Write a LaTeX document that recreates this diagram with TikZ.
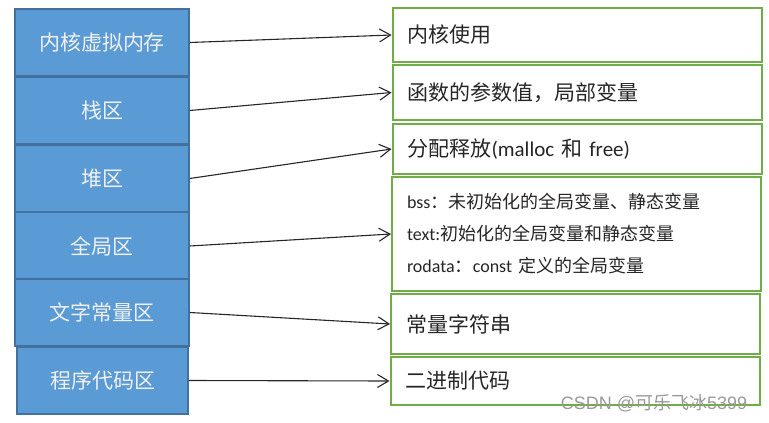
\documentclass[tikz,border=0pt]{standalone}
\usepackage{fontspec}
\setmainfont{Noto Sans CJK SC}
\newfontfamily\latin{Carlito}
\newfontfamily\markfont{Liberation Sans}
\usetikzlibrary{arrows.meta}

\definecolor{segblue}{HTML}{5B9BD5}
\definecolor{segline}{HTML}{41719C}
\definecolor{descgreen}{HTML}{70AD47}

\tikzset{
  seg/.style={draw=segline, line width=1.5pt, fill=segblue, text=white!94!black,
    font=\fontsize{21}{25}\selectfont, minimum width=174pt, minimum height=67pt, inner sep=0pt},
  desc/.style={draw=descgreen, line width=2pt, text=black!85,
    font=\fontsize{21}{25}\selectfont, minimum width=369pt, text width=339pt,
    inner xsep=15pt, inner ysep=0pt, align=left},
  link/.style={-{Straight Barb[length=11pt,width=13pt]}, line width=1.1pt, black!85}
}

\begin{document}
\begin{tikzpicture}[x=1pt,y=-1pt]
        \useasboundingbox (0,0) rectangle (769,423);

        % memory segments
        \node[seg] (kernel) at (102,42.5) {内核虚拟内存};
        \node[seg] (stack) at (102,110.5) {栈区};
        \node[seg] (heap) at (102,178.5) {堆区};
        \node[seg] (global) at (102,246) {全局区};
        \node[seg] (literal) at (102,312.5) {文字常量区};
        \node[seg, minimum width=171pt] (code) at (102.5,380.5) {程序代码区};

        % descriptions
        \node[desc, minimum height=54pt] (kernelUse) at (577,35) {内核使用};
        \node[desc, minimum height=55pt] (stackUse) at (577,92.5) {函数的参数值，局部变量};
        \node[desc, minimum height=50pt] (heapUse) at (577,149) {分配释放{\latin(malloc} 和 {\latin free)}};
        \node[desc, minimum height=114pt, font=\fontsize{18}{32}\selectfont] (globalUse) at (576.5,234)
            {{\latin bss}：未初始化的全局变量、静态变量\\
             {\latin text:}初始化的全局变量和静态变量\\
             {\latin rodata}：{\latin const} 定义的全局变量};
        \node[desc, minimum height=60pt] (literalUse) at (575.5,324) {常量字符串};
        \node[desc, minimum height=48pt] (codeUse) at (575,381) {二进制代码};

        \draw[link] (kernel.east) -- (kernelUse.west);
        \draw[link] (stack.east) -- (stackUse.west);
        \draw[link] (heap.east) -- (heapUse.west);
        \draw[link] (global.east) -- (globalUse.west);
        \draw[link] (literal.east) -- (literalUse.west);
        \draw[link] (code.east) -- (codeUse.west);

        \node[text=black!40, font=\fontsize{18}{20}\selectfont] (mark) at (654,403) {{\markfont CSDN @}可乐飞冰{\markfont 5399}};
    \end{tikzpicture}
\end{document}
